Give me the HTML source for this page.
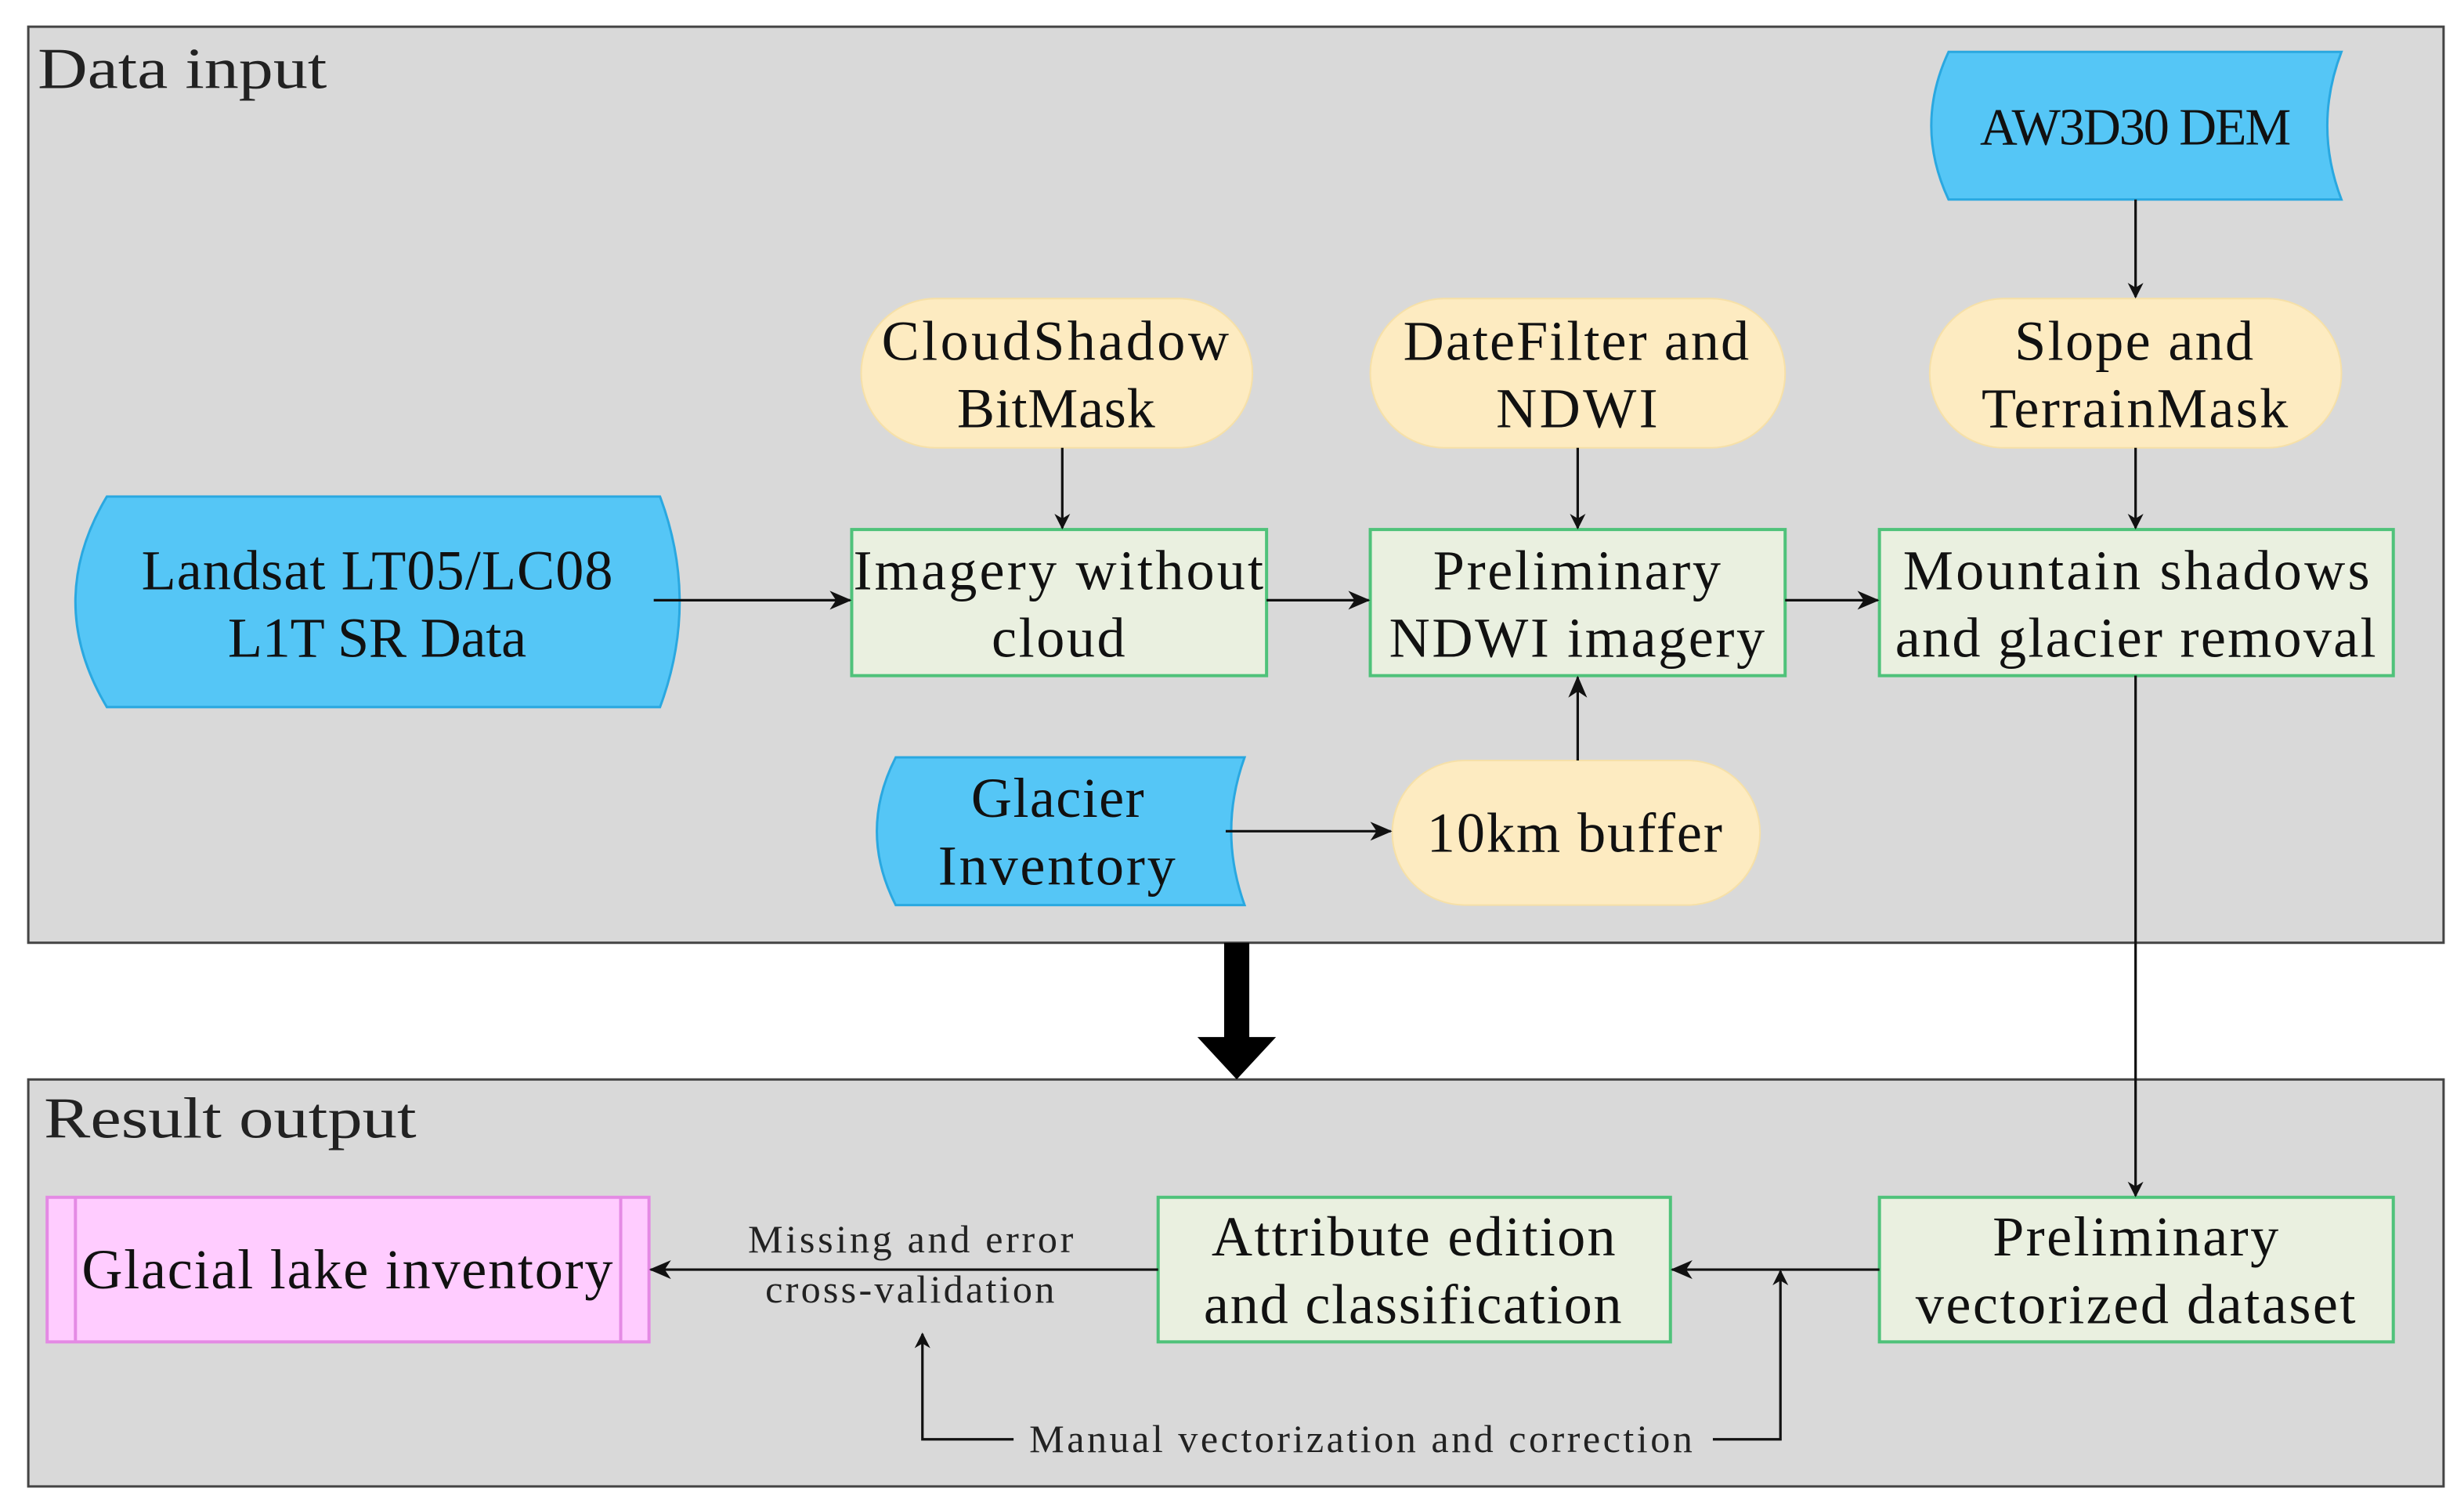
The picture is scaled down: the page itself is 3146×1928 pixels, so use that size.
<!DOCTYPE html>
<html><head><meta charset="utf-8"><style>html,body{margin:0;padding:0;background:#fff}svg{display:block}</style></head>
<body>
<svg width="3146" height="1928" viewBox="0 0 1568 961" preserveAspectRatio="none" xmlns="http://www.w3.org/2000/svg" font-family="Liberation Serif, serif">
<defs>
<marker id="a" markerWidth="10" markerHeight="10" refX="9" refY="5" orient="auto" markerUnits="userSpaceOnUse" viewBox="0 0 10 10"><path d="M0,0 L10,5 L0,10 L3,5 z" fill="#111"/></marker>
<marker id="b" markerWidth="14" markerHeight="14" refX="13" refY="7" orient="auto" markerUnits="userSpaceOnUse" viewBox="0 0 14 14"><path d="M0,1 L14,7 L0,13 L4,7 z" fill="#111"/></marker>
</defs>
<rect width="1568" height="961" fill="#fff"/>
<rect x="18" y="17" width="1537" height="583" fill="#d9d9d9" stroke="#444" stroke-width="1.5"/>
<rect x="18" y="687" width="1537" height="259" fill="#d9d9d9" stroke="#444" stroke-width="1.5"/>
<text x="24" y="56" font-size="37" fill="#222" textLength="184" lengthAdjust="spacingAndGlyphs">Data input</text>
<text x="28" y="724" font-size="37" fill="#222" textLength="237" lengthAdjust="spacingAndGlyphs">Result output</text>
<path d="M779,600 H795 V660 H812 L787,687 L762,660 H779 Z" fill="#000"/>
<g fill="#55c6f6" stroke="#2aa8e0" stroke-width="1.5">
<path d="M1240,33 H1490 Q1472,80 1490,127 H1240 Q1218,80 1240,33 Z"/>
<path d="M68,316 H420 Q445,383 420,450 H68 Q28,383 68,316 Z"/>
<path d="M570,482 H792 Q775,529 792,576 H570 Q546,529 570,482 Z"/>
</g>
<g fill="#fdebc1" stroke="#f6e0a8" stroke-width="1">
<rect x="548" y="190" width="249" height="95" rx="47.5"/>
<rect x="872" y="190" width="264" height="95" rx="47.5"/>
<rect x="1228" y="190" width="262" height="95" rx="47.5"/>
<rect x="886" y="484" width="234" height="92" rx="46"/>
</g>
<g fill="#eaf0e0" stroke="#4fc27a" stroke-width="2">
<rect x="542" y="337" width="264" height="93"/>
<rect x="872" y="337" width="264" height="93"/>
<rect x="1196" y="337" width="327" height="93"/>
<rect x="737" y="762" width="326" height="92"/>
<rect x="1196" y="762" width="327" height="92"/>
</g>
<rect x="30" y="762" width="383" height="92" fill="#ffccff" stroke="#e48ae4" stroke-width="2"/>
<line x1="48" y1="762" x2="48" y2="854" stroke="#e48ae4" stroke-width="2"/>
<line x1="395" y1="762" x2="395" y2="854" stroke="#e48ae4" stroke-width="2"/>
<g font-size="36" fill="#111" lengthAdjust="spacingAndGlyphs">
<text x="1260" y="92" font-size="33" textLength="198">AW3D30 DEM</text>
<text x="561" y="229" textLength="221">CloudShadow</text><text x="609" y="272" textLength="126">BitMask</text>
<text x="893" y="229" textLength="220">DateFilter and</text><text x="952" y="272" textLength="103">NDWI</text>
<text x="1282" y="229" textLength="152">Slope and</text><text x="1261" y="272" textLength="195">TerrainMask</text>
<text x="90" y="375" textLength="300">Landsat LT05/LC08</text><text x="145" y="418" textLength="190">L1T SR Data</text>
<text x="543" y="375" textLength="261">Imagery without</text><text x="631" y="418" textLength="85">cloud</text>
<text x="912" y="375" textLength="183">Preliminary</text><text x="884" y="418" textLength="239">NDWI imagery</text>
<text x="1211" y="375" textLength="297">Mountain shadows</text><text x="1206" y="418" textLength="306">and glacier removal</text>
<text x="618" y="520" textLength="110">Glacier</text><text x="597" y="563" textLength="151">Inventory</text>
<text x="908" y="542" textLength="188">10km buffer</text>
<text x="52" y="820" textLength="338">Glacial lake inventory</text>
<text x="771" y="799" textLength="257">Attribute edition</text><text x="766" y="842" textLength="266">and classification</text>
<text x="1268" y="799" textLength="182">Preliminary</text><text x="1219" y="842" textLength="280">vectorized dataset</text>
</g>
<g font-size="25" fill="#222" lengthAdjust="spacingAndGlyphs">
<text x="476" y="797" textLength="207">Missing and error</text>
<text x="487" y="829" textLength="184">cross-validation</text>
<text x="655" y="924" textLength="422">Manual vectorization and correction</text>
</g>
<g stroke="#111" stroke-width="1.6" fill="none">
<line x1="1359" y1="127" x2="1359" y2="189" marker-end="url(#a)"/>
<line x1="676" y1="285" x2="676" y2="336" marker-end="url(#a)"/>
<line x1="1004" y1="285" x2="1004" y2="336" marker-end="url(#a)"/>
<line x1="1359" y1="285" x2="1359" y2="336" marker-end="url(#a)"/>
<line x1="416" y1="382" x2="541" y2="382" marker-end="url(#b)"/>
<line x1="806" y1="382" x2="871" y2="382" marker-end="url(#b)"/>
<line x1="1136" y1="382" x2="1195" y2="382" marker-end="url(#b)"/>
<line x1="1004" y1="484" x2="1004" y2="431" marker-end="url(#b)"/>
<line x1="780" y1="529" x2="885" y2="529" marker-end="url(#b)"/>
<line x1="1359" y1="430" x2="1359" y2="761" marker-end="url(#a)"/>
<line x1="1196" y1="808" x2="1064" y2="808" marker-end="url(#b)"/>
<line x1="737" y1="808" x2="414" y2="808" marker-end="url(#b)"/>
<polyline points="645,916 587,916 587,849" marker-end="url(#a)"/>
<polyline points="1090,916 1133,916 1133,809" marker-end="url(#a)"/>
</g>
</svg>
</body></html>
